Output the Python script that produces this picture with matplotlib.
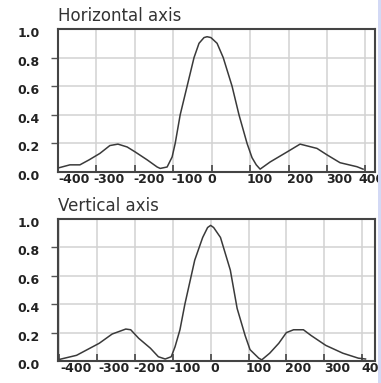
import matplotlib
matplotlib.use("Agg")
import matplotlib.pyplot as plt
import matplotlib.transforms as mtransforms
from matplotlib.patches import Rectangle

# Profil horizontal (positions en unités de grille, intensité normalisée)
x_horiz = [-397, -369, -343, -319, -291, -265, -244, -220, -199, -168, -142, -134,
           -116, -103, -95, -82, -64, -46, -33, -20, -12, -2, 14, 30, 53, 71, 92, 105,
           116, 126, 152, 196, 230, 274, 300, 334, 378, 394]
y_horiz = [0.03, 0.05, 0.05, 0.085, 0.13, 0.185, 0.195, 0.175, 0.14, 0.085, 0.035, 0.025,
           0.035, 0.105, 0.2, 0.4, 0.6, 0.8, 0.9, 0.94, 0.946, 0.94, 0.9, 0.8, 0.6, 0.4, 0.2, 0.1,
           0.05, 0.02, 0.07, 0.14, 0.195, 0.165, 0.12, 0.065, 0.037, 0.02]

# Profil vertical
x_vert = [-398, -354, -294, -260, -224, -211, -190, -159, -138, -120, -104, -94,
          -81, -68, -42, -21, -8, 0, 8, 26, 52, 70, 91, 104, 127, 135, 156, 180, 200,
          219, 245, 265, 304, 349, 390, 409]
y_vert = [0.012, 0.04, 0.125, 0.19, 0.225, 0.22, 0.16, 0.09, 0.03, 0.014, 0.03, 0.1,
          0.22, 0.4, 0.71, 0.87, 0.94, 0.955, 0.94, 0.87, 0.64, 0.37, 0.18, 0.08, 0.02,
          0.008, 0.055, 0.125, 0.2, 0.22, 0.22, 0.18, 0.11, 0.055, 0.02, 0.014]

# Graduations
grid_x = [-400, -300, -200, -100, 0, 100, 200, 300, 400]
grid_y = [0.0, 0.2, 0.4, 0.6, 0.8, 1.0]
x_labels = ["-400", "-300", "-200", "-100", "0", "100", "200", "300", "400"]
y_labels = ["0.0", "0.2", "0.4", "0.6", "0.8", "1.0"]
pos_labels_h = [-358, -267, -163, -64, 1, 124, 230, 332, 417]
pos_labels_v = [-355, -256, -163, -67, 10, 127, 231, 334, 434]

W, H = 381, 383
fig = plt.figure(figsize=(W / 100, H / 100), dpi=100)
fig.patch.set_facecolor("white")

ax_h = fig.add_axes([58 / W, 1 - 172 / H, 317 / W, 143 / H])
ax_v = fig.add_axes([58 / W, 1 - 361 / H, 317 / W, 142 / H])


def dessiner(ax, xs, ys, titre, pos_labels, xlim):
    ax.plot(xs, ys, color="#3a3a3a", lw=1.1, zorder=3)
    ax.set_xlim(*xlim)
    ax.set_ylim(0, 1)

    ax.set_xticks(grid_x)
    ax.set_xticklabels([])
    ax.set_xticks(pos_labels, x_labels, minor=True)
    ax.tick_params(axis="x", which="major", direction="in", length=5,
                   width=1.2, color="#444444")
    ax.tick_params(axis="x", which="minor", length=0, pad=0.5, labelsize=9,
                   labelcolor="#222222")
    for lab in ax.get_xticklabels(minor=True):
        lab.set_fontweight("bold")

    ax.set_yticks(grid_y, y_labels)
    ax.tick_params(axis="y", direction="out", length=5, width=1.0,
                   color="#555555", pad=8, labelsize=9, labelcolor="#222222")
    decal = mtransforms.ScaledTranslation(0, -3 / 100, fig.dpi_scale_trans)
    for lab in ax.get_yticklabels():
        lab.set_fontweight("bold")
        lab.set_transform(lab.get_transform() + decal)
    ticks = ax.yaxis.get_major_ticks()
    ticks[0].tick1line.set_visible(False)
    ticks[-1].tick1line.set_visible(False)

    ax.grid(True, which="major", color="#d2d2d2", lw=1.1)
    ax.set_axisbelow(True)
    for sp in ax.spines.values():
        sp.set_color("#444444")
        sp.set_linewidth(1.5)

    decal_titre = mtransforms.ScaledTranslation(0, 8 / 100, fig.dpi_scale_trans)
    ax.text(0, 1, titre, transform=ax.transAxes + decal_titre, ha="left",
            va="baseline", fontsize=12, color="#333333")


dessiner(ax_h, x_horiz, y_horiz, "Horizontal axis", pos_labels_h, (-400, 425))
dessiner(ax_v, x_vert, y_vert, "Vertical axis", pos_labels_v, (-403, 422))

# bande bleutée sur le bord droit
fig.patches.append(Rectangle((378 / W, 0), 3 / W, 1, transform=fig.transFigure,
                             facecolor="#d3d9f5", edgecolor="none", zorder=10))

fig.savefig("out.png", dpi=100)
